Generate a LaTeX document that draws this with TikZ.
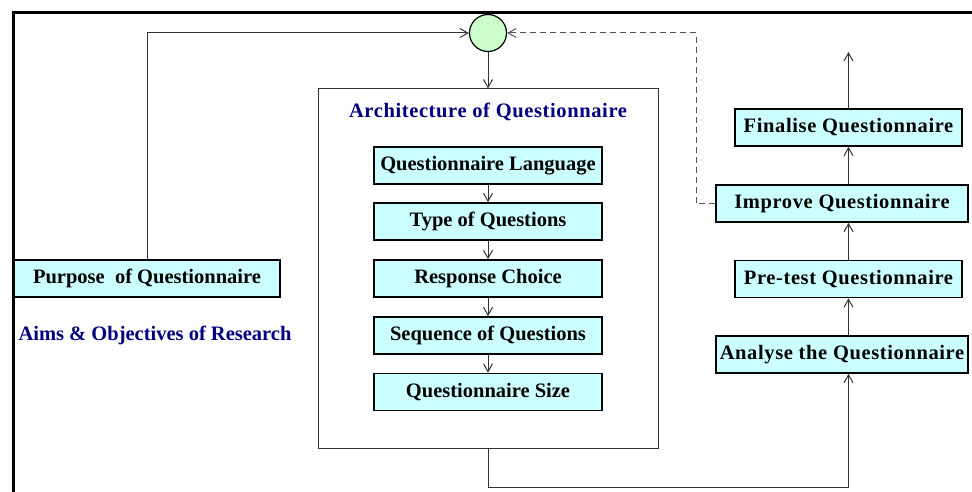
\documentclass[tikz,border=0pt]{standalone}
\usepackage{fontspec}
\setmainfont{Liberation Serif}
\usetikzlibrary{arrows.meta,calc}
\definecolor{boxfill}{HTML}{CCFFFF}
\definecolor{circfill}{HTML}{CCFFCC}
\definecolor{navytext}{HTML}{000080}
\definecolor{conncol}{HTML}{333333}
\definecolor{dashcol}{HTML}{555555}
\begin{document}
\begin{tikzpicture}[x=1pt,y=-1pt,
  font=\fontsize{20.5}{24}\selectfont\bfseries,
  stepbox/.style={draw=black,line width=1.6pt,fill=boxfill,minimum height=37pt,inner sep=0pt},
  spaced/.style={font=\fontsize{20.5}{24}\selectfont\bfseries\addfontfeatures{LetterSpace=3}},
  conn/.style={draw=conncol,line width=1pt,-{Straight Barb[length=8pt,width=9pt]}},
  dconn/.style={draw=dashcol,line width=1pt,dash pattern=on 6pt off 4pt,-{Straight Barb[length=8pt,width=9pt]}}]
\useasboundingbox (0,0) rectangle (972,492);
\fill[white] (0,0) rectangle (972,492);
% frame
\draw[line width=3pt] (13,492) -- (13,13) -- (972,13);
% architecture box
\node[draw=conncol,line width=1pt,minimum width=340pt,minimum height=359pt,inner sep=0pt] (arch) at (488,268.5) {};
\node[spaced,text=navytext] (title) at (488,112) {Architecture of Questionnaire};
\node[stepbox,minimum width=228pt] (q1) at (488,165.5) {Questionnaire Language};
\node[stepbox,minimum width=228pt] (q2) at (488,221.5) {Type of Questions};
\node[stepbox,minimum width=228pt] (q3) at (488,278.5) {Response Choice};
\node[stepbox,minimum width=228pt] (q4) at (488,335.5) {Sequence of Questions};
\node[stepbox,minimum width=228pt] (q5) at (488,392) {Questionnaire Size};
% left
\node[stepbox,minimum width=266pt] (purpose) at (147,278.5) {Purpose\ \ of Questionnaire};
\node[text=navytext] (aims) at (155,335) {Aims \& Objectives of Research};
% circle
\node[circle,draw=black,line width=1.2pt,fill=circfill,minimum size=37pt,inner sep=0pt] (circ) at (488,33) {};
% right
\node[stepbox,spaced,minimum width=227pt] (fin) at (848.5,127.5) {Finalise Questionnaire};
\node[stepbox,spaced,minimum width=252pt] (imp) at (842,203.5) {Improve Questionnaire};
\node[stepbox,spaced,minimum width=227pt] (pre) at (848.5,279) {Pre-test Questionnaire};
\node[stepbox,spaced,minimum width=252pt] (ana) at (842,354.5) {Analyse the Questionnaire};
\coordinate (top) at (848.5,52);
\coordinate (bot) at (488,487);
\coordinate (dk) at (696,204);
% connectors
\draw[conn] (purpose.north) |- (circ.west);
\draw[conn] (circ.south) -- (arch.north);
\draw[conn] (q1.south) -- (q2.north);
\draw[conn] (q2.south) -- (q3.north);
\draw[conn] (q3.south) -- (q4.north);
\draw[conn] (q4.south) -- (q5.north);
\draw[conn] (arch.south) -- (bot) -| (ana.south -| fin.south);
\draw[conn] (ana.north -| fin.south) -- (pre.south);
\draw[conn] (pre.north) -- (imp.south -| pre.north);
\draw[conn] (imp.north -| fin.south) -- (fin.south);
\draw[conn] (fin.north) -- (top);
\draw[dconn] (imp.west) -- (imp.west -| dk) |- (circ.east);
\end{tikzpicture}
\end{document}
